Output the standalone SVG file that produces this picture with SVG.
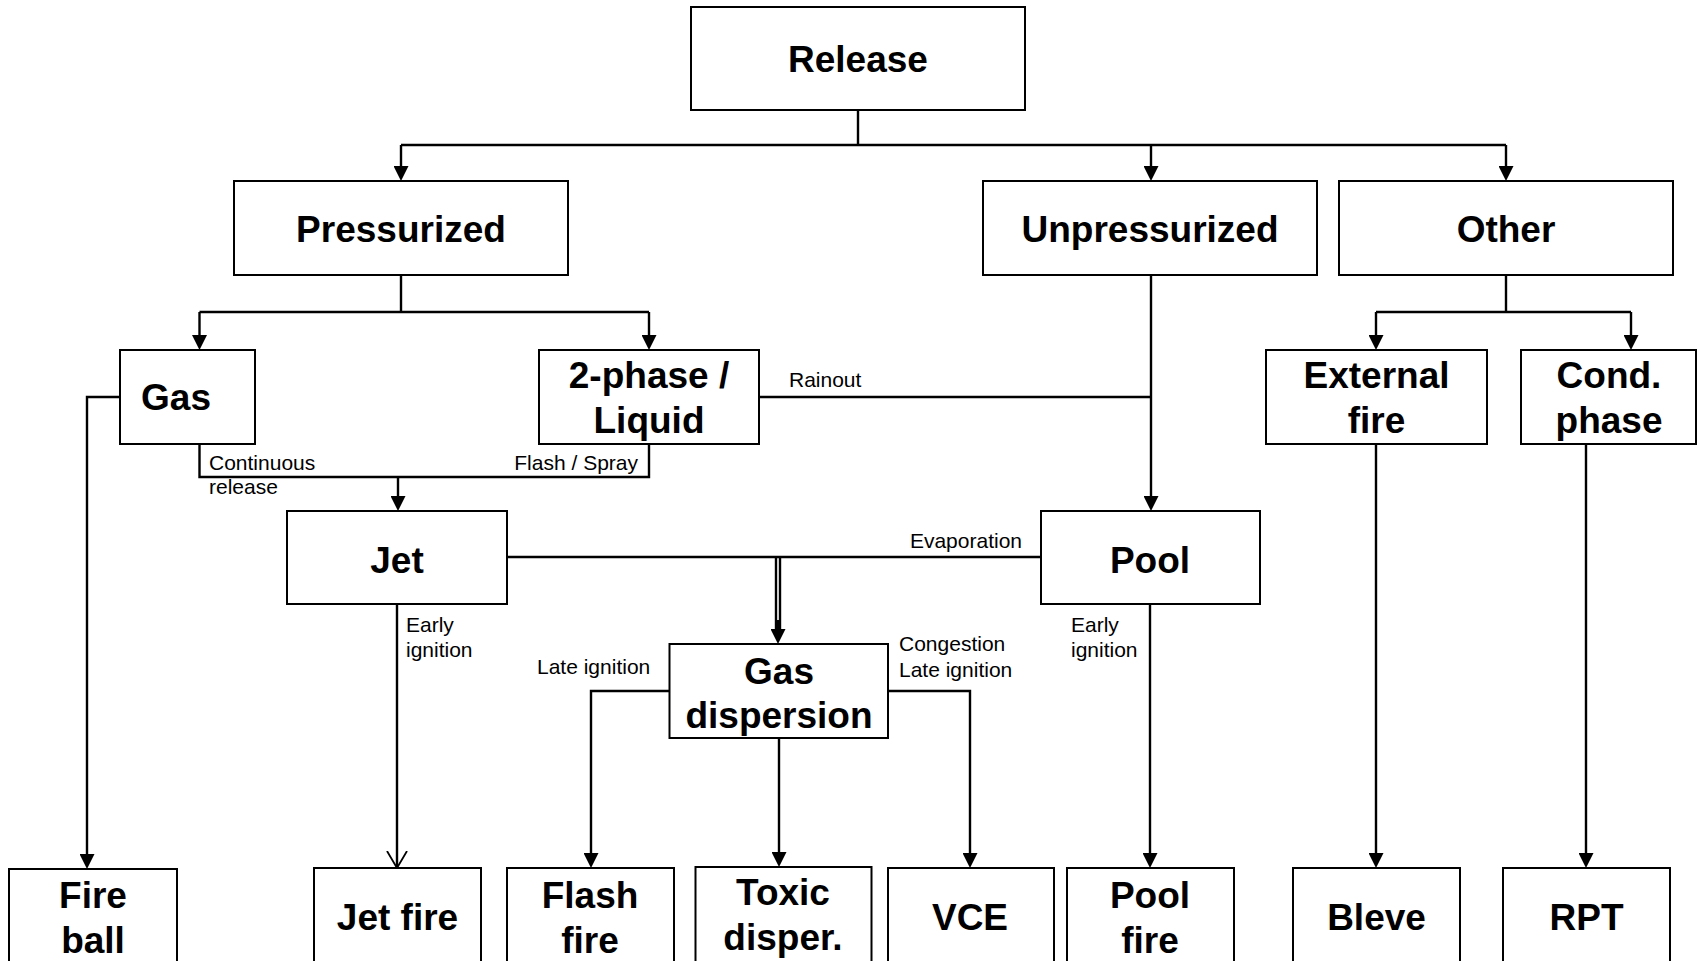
<svg xmlns="http://www.w3.org/2000/svg" width="1700" height="961" viewBox="0 0 1700 961">
  <defs>
    <style>
      .box { fill: #ffffff; stroke: #000000; stroke-width: 2; }
      .node { font-family: "Liberation Sans", Arial, sans-serif; font-weight: bold; font-size: 37px; fill: #000000; text-anchor: middle; }
      .lbl { font-family: "Liberation Sans", Arial, sans-serif; font-size: 21px; fill: #000000; }
      .wire { fill: none; stroke: #000000; stroke-width: 2.4; }
      .arr { marker-end: url(#head); }
    </style>
    <marker id="head" viewBox="0 0 15 15" refX="5" refY="7.5" markerWidth="15" markerHeight="15" markerUnits="userSpaceOnUse" orient="auto">
      <path d="M0,0 L15,7.5 L0,15 Z" fill="#000000"/>
    </marker>
    <marker id="open" viewBox="0 0 18 22" refX="17" refY="11" markerWidth="18" markerHeight="22" markerUnits="userSpaceOnUse" orient="auto">
      <path d="M0,1 L17,11 L0,21" fill="none" stroke="#000000" stroke-width="1.8"/>
    </marker>
  </defs>

  <rect width="1700" height="961" fill="#ffffff"/>

  <!-- connectors -->
  <g id="connectors">
    <!-- Release splits into three branches -->
    <path class="wire" d="M858,110 V145"/>
    <path class="wire" d="M401,145 H1506"/>
    <path class="wire arr" d="M401,145 V171"/>
    <path class="wire arr" d="M1151,145 V171"/>
    <path class="wire arr" d="M1506,145 V171"/>
    <!-- Pressurized -> Gas, 2-phase -->
    <path class="wire" d="M401,275 V312"/>
    <path class="wire" d="M199.5,312 H649"/>
    <path class="wire arr" d="M199.5,312 V340"/>
    <path class="wire arr" d="M649,312 V340"/>
    <!-- Other -> External fire, Cond. phase -->
    <path class="wire" d="M1506,275 V312"/>
    <path class="wire" d="M1376,312 H1631"/>
    <path class="wire arr" d="M1376,312 V340"/>
    <path class="wire arr" d="M1631,312 V340"/>
    <!-- Unpressurized -> Pool, with rainout from 2-phase -->
    <path class="wire arr" d="M1151,275 V501"/>
    <path class="wire" d="M759,397 H1151"/>
    <!-- Gas -> Fire ball -->
    <path class="wire arr" d="M120,397 H87 V859"/>
    <!-- Gas / 2-phase -> Jet -->
    <path class="wire" d="M199.5,444 V477 H649 V444"/>
    <path class="wire arr" d="M398,477 V501"/>
    <!-- Jet / Pool -> Gas dispersion -->
    <path class="wire" d="M507,557 H1041"/>
    <path class="wire" d="M776,557 V634"/>
    <path class="wire" d="M780,557 V634"/>
    <path class="wire arr" d="M778,620 V634"/>
    <!-- Jet -> Jet fire (early ignition) -->
    <path class="wire" d="M397,604 V868" marker-end="url(#open)"/>
    <!-- Gas dispersion outcomes -->
    <path class="wire arr" d="M669.5,691 H591 V858"/>
    <path class="wire arr" d="M779,738 V857"/>
    <path class="wire arr" d="M888,691 H970 V858"/>
    <!-- Pool -> Pool fire -->
    <path class="wire arr" d="M1150,604 V858"/>
    <!-- External fire -> Bleve, Cond. phase -> RPT -->
    <path class="wire arr" d="M1376,444 V858"/>
    <path class="wire arr" d="M1586,444 V858"/>
  </g>

  <!-- connector labels -->
  <g id="labels">
    <text class="lbl" x="789" y="387">Rainout</text>
    <text class="lbl" x="209" y="470">Continuous</text>
    <text class="lbl" x="209" y="494">release</text>
    <text class="lbl" x="638" y="470" text-anchor="end">Flash / Spray</text>
    <text class="lbl" x="1022" y="548" text-anchor="end">Evaporation</text>
    <text class="lbl" x="406" y="632">Early</text>
    <text class="lbl" x="406" y="657">ignition</text>
    <text class="lbl" x="537" y="674">Late ignition</text>
    <text class="lbl" x="899" y="651">Congestion</text>
    <text class="lbl" x="899" y="677">Late ignition</text>
    <text class="lbl" x="1071" y="632">Early</text>
    <text class="lbl" x="1071" y="657">ignition</text>
  </g>

  <g id="release">
    <rect class="box" x="691" y="7" width="334" height="103"/>
    <text class="node" x="858" y="72">Release</text>
  </g>
  <g id="pressurized">
    <rect class="box" x="234" y="181" width="334" height="94"/>
    <text class="node" x="401" y="242">Pressurized</text>
  </g>
  <g id="unpressurized">
    <rect class="box" x="983" y="181" width="334" height="94"/>
    <text class="node" x="1150" y="242">Unpressurized</text>
  </g>
  <g id="other">
    <rect class="box" x="1339" y="181" width="334" height="94"/>
    <text class="node" x="1506" y="242">Other</text>
  </g>
  <g id="gas">
    <rect class="box" x="120" y="350" width="135" height="94"/>
    <text class="node" x="176" y="410">Gas</text>
  </g>
  <g id="two-phase">
    <rect class="box" x="539" y="350" width="220" height="94"/>
    <text class="node" x="649" y="388">2-phase /</text>
    <text class="node" x="649" y="433">Liquid</text>
  </g>
  <g id="external-fire">
    <rect class="box" x="1266" y="350" width="221" height="94"/>
    <text class="node" x="1376.5" y="388">External</text>
    <text class="node" x="1376.5" y="433">fire</text>
  </g>
  <g id="cond-phase">
    <rect class="box" x="1521" y="350" width="175" height="94"/>
    <text class="node" x="1609" y="388">Cond.</text>
    <text class="node" x="1609" y="433">phase</text>
  </g>
  <g id="jet">
    <rect class="box" x="287" y="511" width="220" height="93"/>
    <text class="node" x="397" y="573">Jet</text>
  </g>
  <g id="pool">
    <rect class="box" x="1041" y="511" width="219" height="93"/>
    <text class="node" x="1150" y="573">Pool</text>
  </g>
  <g id="gas-dispersion">
    <rect class="box" x="669.5" y="644" width="218.5" height="94"/>
    <text class="node" x="779" y="684">Gas</text>
    <text class="node" x="779" y="728">dispersion</text>
  </g>
  <g id="fire-ball">
    <rect class="box" x="9" y="869" width="168" height="130"/>
    <text class="node" x="93" y="908">Fire</text>
    <text class="node" x="93" y="953">ball</text>
  </g>
  <g id="jet-fire">
    <rect class="box" x="314" y="868" width="167" height="130"/>
    <text class="node" x="397.5" y="930">Jet fire</text>
  </g>
  <g id="flash-fire">
    <rect class="box" x="507" y="868" width="167" height="130"/>
    <text class="node" x="590" y="908">Flash</text>
    <text class="node" x="590" y="953">fire</text>
  </g>
  <g id="toxic-disper">
    <rect class="box" x="695.5" y="867" width="176" height="130"/>
    <text class="node" x="783" y="905">Toxic</text>
    <text class="node" x="783" y="950">disper.</text>
  </g>
  <g id="vce">
    <rect class="box" x="888" y="868" width="166" height="130"/>
    <text class="node" x="970" y="930">VCE</text>
  </g>
  <g id="pool-fire">
    <rect class="box" x="1067" y="868" width="167" height="130"/>
    <text class="node" x="1150" y="908">Pool</text>
    <text class="node" x="1150" y="953">fire</text>
  </g>
  <g id="bleve">
    <rect class="box" x="1293" y="868" width="167" height="130"/>
    <text class="node" x="1376.5" y="930">Bleve</text>
  </g>
  <g id="rpt">
    <rect class="box" x="1503" y="868" width="167" height="130"/>
    <text class="node" x="1586.5" y="930">RPT</text>
  </g>
</svg>
